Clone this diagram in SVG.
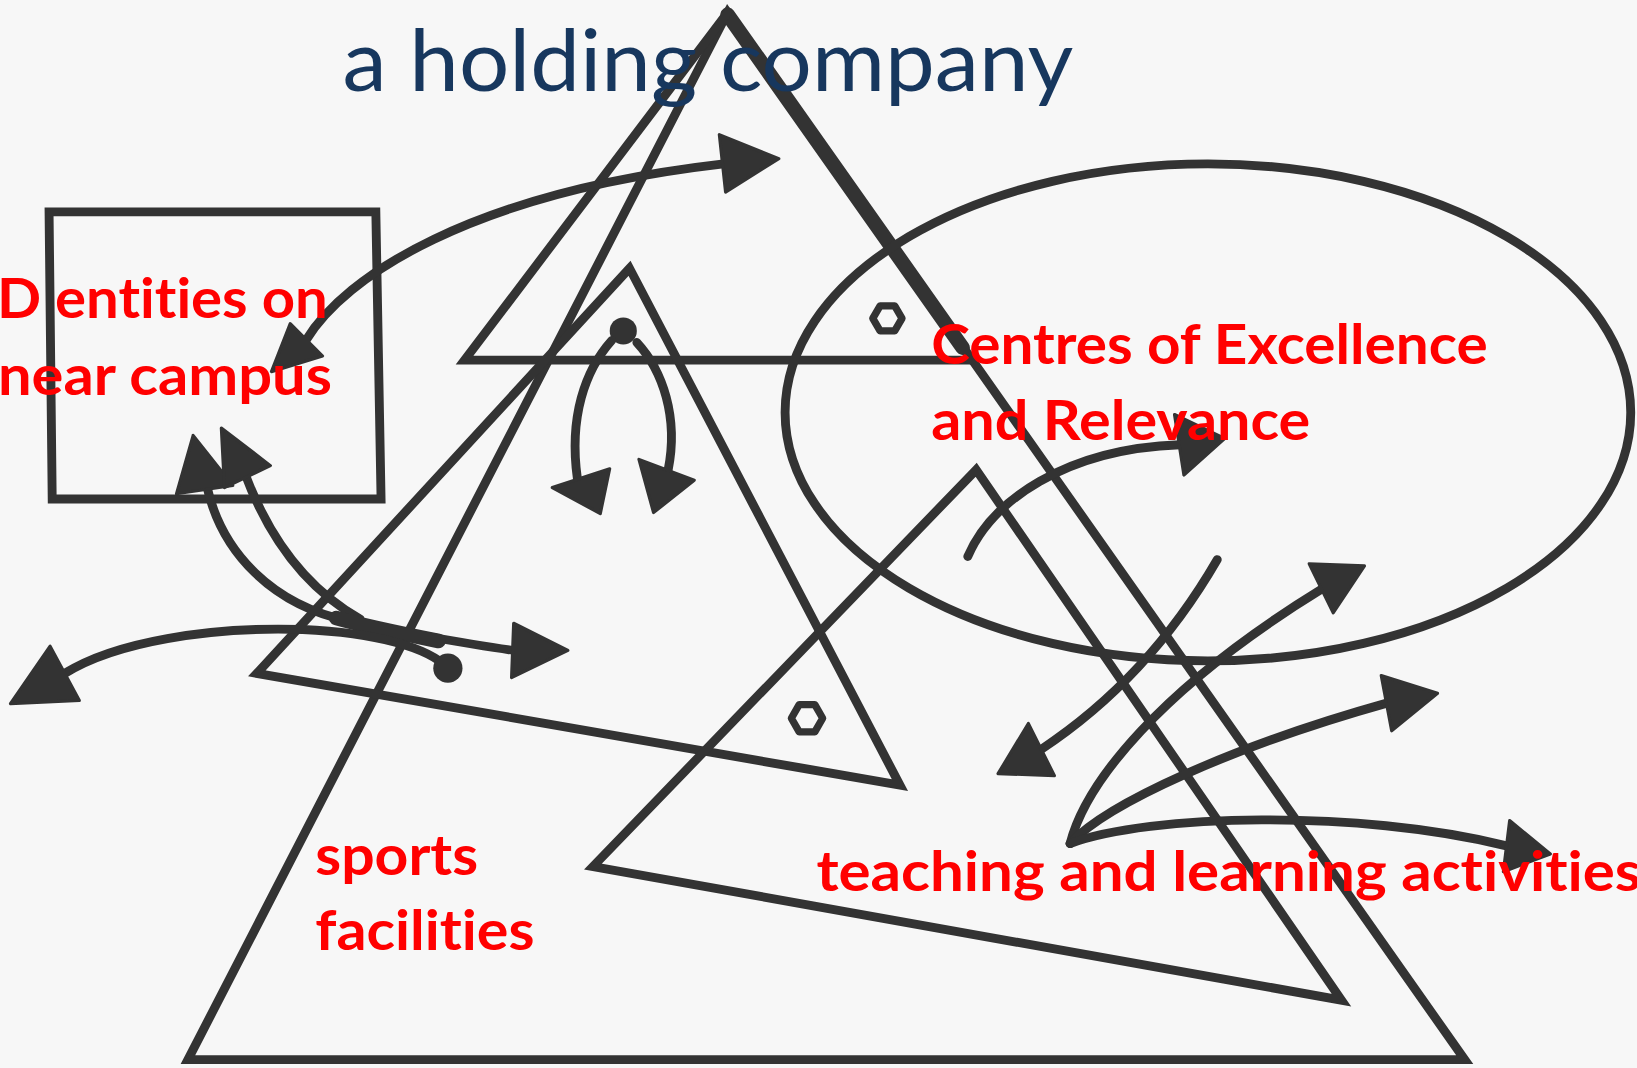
<svg xmlns="http://www.w3.org/2000/svg" width="1637" height="1068" viewBox="0 0 1637 1068">
<style>
.ln{fill:none;stroke:#333;stroke-width:8.5;stroke-linejoin:miter;stroke-linecap:round}
.thick{fill:none;stroke:#333;stroke-width:14;stroke-linecap:round}
.hex{fill:none;stroke:#333;stroke-width:7;stroke-linejoin:round}
.ah{fill:#333;stroke:#333;stroke-width:3;stroke-linejoin:round}
.dot{fill:#333}
.lbl{font-family:Lato,"Open Sans",sans-serif;font-weight:700;font-size:54px;fill:#FF0000;font-variant-ligatures:none;font-feature-settings:"liga" 0,"clig" 0}
.ttl{font-family:Lato,"Open Sans",sans-serif;font-weight:400;font-size:82px;fill:#17375E;font-variant-ligatures:none}
</style>
<rect width="1637" height="1068" fill="#f7f7f7"/>
<g transform="scale(1.044)">
  <g id="box">
    <path class="ln" d="M47,203 L360,203 L365,478 L50,478 Z"/>
  </g>
  <g id="big-triangle">
    <path class="ln" d="M697,12 L180,1015 L1403,1015 Z"/>
    <path class="thick" d="M697,14 L922,333"/>
  </g>
  <g id="triangle-top">
    <path class="ln" d="M697,12 L445,345 L930,345"/>
    <polygon class="hex" points="864,305 857,317 843,317 836,305 843,293 857,293"/>
  </g>
  <g id="triangle-middle">
    <path class="ln" d="M603,257 L246,645 L862,752 Z"/>
    <polygon class="hex" points="788,688 780.5,701 765.5,701 758,688 765.5,675 780.5,675"/>
  </g>
  <g id="triangle-right">
    <path class="ln" d="M935,450 L568,830 L1285,958 Z"/>
  </g>
  <g id="ellipse">
    <ellipse class="ln" cx="1157" cy="395" rx="405" ry="238"/>
  </g>
  <g id="connectors">
    <path class="ln" d="M293,326 C330,265 450,185 693,157"/>
    <polygon class="ah" points="260,356 278,310 309,341"/>
    <polygon class="ah" points="746,152 689,129 695,184"/>
    <path class="ln" d="M198,465 C212,530 262,580 335,595 L400,608 C440,615 470,620 492,623"/>
    <path class="ln" d="M234,452 C256,512 292,563 345,593"/>
    <path class="thick" d="M322,592 C350,600 380,606 420,614"/>
    <polygon class="ah" points="185,417 169,473 223,465"/>
    <polygon class="ah" points="212,410 259,446 215,467"/>
    <polygon class="ah" points="492,597 544,623 490,649"/>
    <path class="ln" d="M62,645 C110,615 200,600 290,603 C360,606 410,620 429,640"/>
    <polygon class="ah" points="48,619 10,674 76,671"/>
    <circle class="dot" cx="429" cy="640" r="14"/>
    <circle class="dot" cx="597" cy="317" r="13"/>
    <path class="ln" d="M586,326 C560,355 545,400 553,458"/>
    <path class="ln" d="M610,328 C635,355 650,400 640,450"/>
    <polygon class="ah" points="529,467 584,449 575,492"/>
    <polygon class="ah" points="612,440 665,460 626,491"/>
    <path class="ln" d="M927,533 C950,480 1020,430 1130,426"/>
    <polygon class="ah" points="1125,397 1173,420 1134,455"/>
    <path class="ln" d="M1166,536 Q1100,650 997,718"/>
    <polygon class="ah" points="985,693 956,741 1010,743"/>
    <path class="ln" d="M1025,808 C1040,750 1110,660 1268,563"/>
    <polygon class="ah" points="1254,540 1307,542 1277,587"/>
    <path class="ln" d="M1025,808 C1060,770 1180,715 1330,673"/>
    <polygon class="ah" points="1323,647 1377,664 1333,700"/>
    <path class="ln" d="M1025,808 C1100,780 1300,775 1442,810"/>
    <polygon class="ah" points="1446,786 1485,818 1440,835"/>
  </g>
  <g id="title">
    <text class="ttl" x="328" y="87" textLength="700" lengthAdjust="spacingAndGlyphs">a holding company</text>
  </g>
  <g id="label-entities">
    <text class="lbl" x="-3" y="305" textLength="317" lengthAdjust="spacingAndGlyphs">D entities on</text>
    <text class="lbl" x="-2" y="378" textLength="320" lengthAdjust="spacingAndGlyphs">near campus</text>
  </g>
  <g id="label-centres">
    <text class="lbl" x="892" y="349" textLength="533" lengthAdjust="spacingAndGlyphs">Centres of Excellence</text>
    <text class="lbl" x="892" y="421" textLength="363" lengthAdjust="spacingAndGlyphs">and Relevance</text>
  </g>
  <g id="label-sports">
    <text class="lbl" x="302" y="838" textLength="156" lengthAdjust="spacingAndGlyphs">sports</text>
    <text class="lbl" x="302" y="910" textLength="210" lengthAdjust="spacingAndGlyphs">facilities</text>
  </g>
  <g id="label-teaching">
    <text class="lbl" x="782" y="853" textLength="790" lengthAdjust="spacingAndGlyphs">teaching and learning activities</text>
  </g>
</g>
</svg>
